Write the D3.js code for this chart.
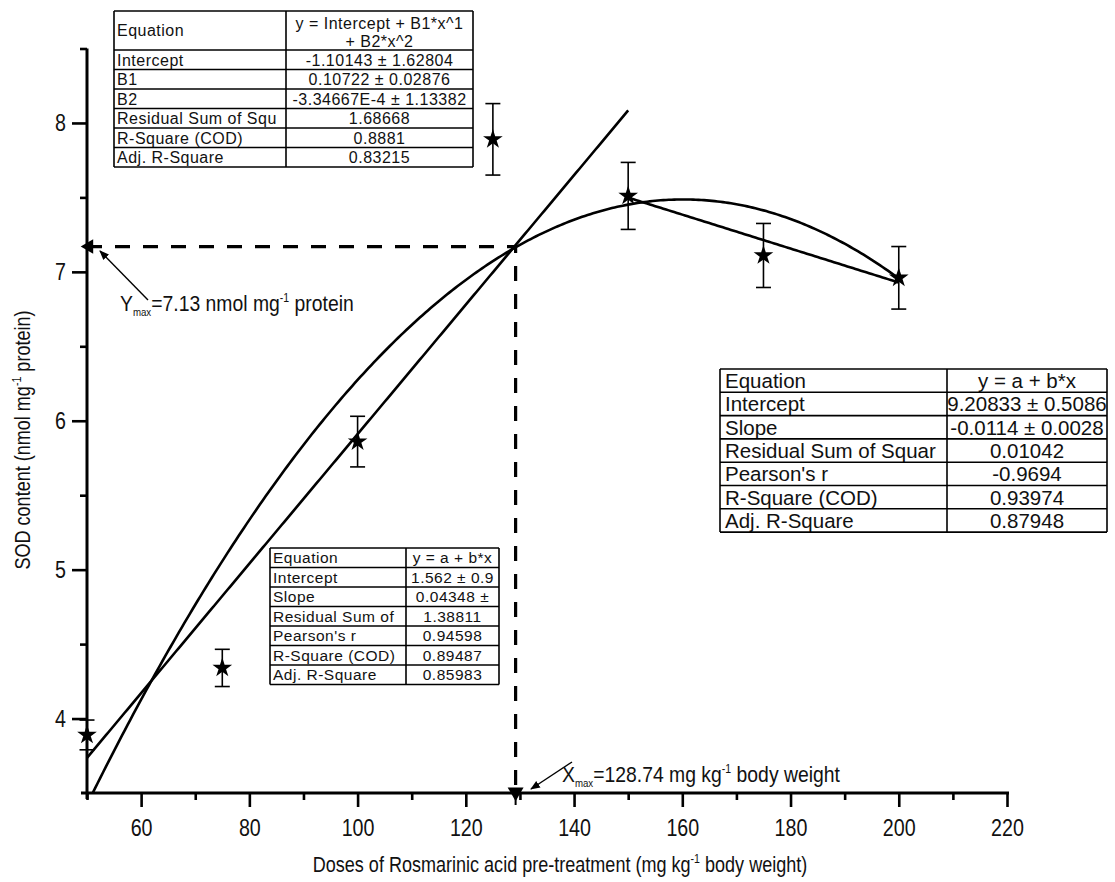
<!DOCTYPE html>
<html>
<head>
<meta charset="utf-8">
<script src="https://cdn.jsdelivr.net/npm/d3@7"></script>
<style>
  body { margin: 0; background: #fff; }
  text { font-family: "Liberation Sans", Arial, sans-serif; fill: #111; }
</style>
</head>
<body>
<svg id="chart" width="1115" height="882"></svg>
<script>
// measured points (dose, SOD content, error)
const doses = [50, 75, 100, 125, 150, 175, 200];
const sod = [3.89, 4.34, 5.86, 7.89, 7.51, 7.11, 6.96];
const sodErr = [0.10, 0.125, 0.17, 0.24, 0.225, 0.215, 0.21];

// fitted curves, coefficients as printed in the tables
const quadCoef = [-1.10143, 0.10722, -3.34667e-4];
const quadRange = [50, 200];
const riseCoef = [1.562, 0.04348];
const riseRange = [50, 150];
const fallCoef = [9.20833, -0.0114];
const fallRange = [150, 200];

// where the dashed guides meet
const xMax = 129.2;
const yMax = 7.17;

const xTicks = [60, 80, 100, 120, 140, 160, 180, 200, 220];
const xMinor = [50, 70, 90, 110, 130, 150, 170, 190, 210];
const yTicks = [4, 5, 6, 7, 8];
const yMinor = [4.5, 5.5, 6.5, 7.5, 8.5];

const quadTable = [
  ["Equation", "y = Intercept + B1*x^1|+ B2*x^2"],
  ["Intercept", "-1.10143 \u00b1 1.62804"],
  ["B1", "0.10722 \u00b1 0.02876"],
  ["B2", "-3.34667E-4 \u00b1 1.13382"],
  ["Residual Sum of Squ", "1.68668"],
  ["R-Square (COD)", "0.8881"],
  ["Adj. R-Square", "0.83215"]
];
const riseTable = [
  ["Equation", "y = a + b*x"],
  ["Intercept", "1.562 \u00b1 0.9"],
  ["Slope", "0.04348 \u00b1"],
  ["Residual Sum of", "1.38811"],
  ["Pearson's r", "0.94598"],
  ["R-Square (COD)", "0.89487"],
  ["Adj. R-Square", "0.85983"]
];
const fallTable = [
  ["Equation", "y = a + b*x"],
  ["Intercept", "9.20833 \u00b1 0.5086"],
  ["Slope", "-0.0114 \u00b1 0.0028"],
  ["Residual Sum of Squar", "0.01042"],
  ["Pearson's r", "-0.9694"],
  ["R-Square (COD)", "0.93974"],
  ["Adj. R-Square", "0.87948"]
];

const svg = d3.select("#chart");
const pLeft = 87, pRight = 1007, pTop = 48.5, pBottom = 793;
const narrow = 0.82; // squeeze for the condensed axis lettering

const x = d3.scaleLinear().domain([50, 220]).range([pLeft, pRight]);
const y = d3.scaleLinear().domain([3.5, 8.5]).range([pBottom, pTop]);

const defs = svg.append("defs");
defs.append("clipPath").attr("id", "plot")
  .append("rect").attr("x", pLeft).attr("y", pTop)
  .attr("width", pRight - pLeft).attr("height", pBottom - pTop);

function poly(c, v) {
  return c.reduce((s, k, i) => s + k * Math.pow(v, i), 0);
}
function curve(c, r) {
  return d3.range(r[0], r[1] + 0.001, 0.5).map(v => [v, poly(c, v)]);
}

const line = d3.line().x(d => x(d[0])).y(d => y(d[1]));
const fits = svg.append("g").attr("clip-path", "url(#plot)");
[[quadCoef, quadRange], [riseCoef, riseRange], [fallCoef, fallRange]].forEach(f => {
  fits.append("path")
    .attr("d", line(curve(f[0], f[1])))
    .attr("fill", "none")
    .attr("stroke", "#000")
    .attr("stroke-width", 2.6);
});

// dashed guides to the optimum
svg.append("path")
  .attr("d", line([[50, yMax], [xMax, yMax], [xMax, 3.5]]))
  .attr("fill", "none")
  .attr("stroke", "#000")
  .attr("stroke-width", 3.2)
  .attr("stroke-dasharray", "15,13");

// error bars
const pts = doses.map((d, i) => ({x: d, y: sod[i], e: sodErr[i]}));
const eb = svg.append("g").attr("stroke", "#000").attr("stroke-width", 1.6);
pts.forEach(p => {
  eb.append("line").attr("x1", x(p.x)).attr("x2", x(p.x))
    .attr("y1", y(p.y - p.e)).attr("y2", y(p.y + p.e));
  [p.y - p.e, p.y + p.e].forEach(v => {
    eb.append("line").attr("x1", x(p.x) - 7.5).attr("x2", x(p.x) + 7.5)
      .attr("y1", y(v)).attr("y2", y(v));
  });
});

// star markers
svg.append("g").selectAll("path").data(pts).join("path")
  .attr("transform", d => `translate(${x(d.x)},${y(d.y)})`)
  .attr("d", d3.symbol(d3.symbolStar, 120))
  .attr("fill", "#000");

// axes
function styleAxis(g) {
  g.selectAll(".domain").remove();
  g.selectAll(".tick line").attr("stroke", "#000").attr("stroke-width", 2.6);
  g.selectAll(".tick text").attr("font-size", 24).attr("fill", "#111")
    .attr("font-family", "\"Liberation Sans\", Arial, sans-serif")
    .attr("transform", `scale(${narrow},1)`)
    .attr("x", function () { return +d3.select(this).attr("x") / narrow; });
}
svg.append("g").attr("transform", `translate(0,${pBottom})`)
  .call(d3.axisBottom(x).tickValues(xTicks).tickSize(14).tickPadding(12).tickFormat(d3.format("d")))
  .call(styleAxis);
svg.append("g").attr("transform", `translate(0,${pBottom})`)
  .call(d3.axisBottom(x).tickValues(xMinor).tickSize(7).tickFormat(""))
  .call(styleAxis);
svg.append("g").attr("transform", `translate(${pLeft},0)`)
  .call(d3.axisLeft(y).tickValues(yTicks).tickSize(15).tickPadding(6).tickFormat(d3.format("d")))
  .call(styleAxis);
svg.append("g").attr("transform", `translate(${pLeft},0)`)
  .call(d3.axisLeft(y).tickValues(yMinor).tickSize(7).tickFormat(""))
  .call(styleAxis);

svg.append("line").attr("x1", pLeft - 6).attr("x2", pRight + 2)
  .attr("y1", pBottom).attr("y2", pBottom)
  .attr("stroke", "#000").attr("stroke-width", 3);
svg.append("line").attr("x1", pLeft).attr("x2", pLeft)
  .attr("y1", pTop).attr("y2", pBottom + 6)
  .attr("stroke", "#000").attr("stroke-width", 3);

// axis titles
const xt = svg.append("g").attr("transform", `translate(560,872) scale(${narrow},1)`)
  .append("text")
  .attr("text-anchor", "middle")
  .attr("font-size", 22);
xt.append("tspan").text("Doses of Rosmarinic acid pre-treatment (mg kg");
xt.append("tspan").attr("font-size", 13).attr("dy", -9).text("-1");
xt.append("tspan").attr("dy", 9).text(" body weight)");

const yt = svg.append("g").attr("transform", `translate(30,440) rotate(-90) scale(${narrow},1)`)
  .append("text")
  .attr("text-anchor", "middle")
  .attr("font-size", 22);
yt.append("tspan").text("SOD content (nmol mg");
yt.append("tspan").attr("font-size", 13).attr("dy", -9).text("-1");
yt.append("tspan").attr("dy", 9).text(" protein)");

// optimum markers on the axes
svg.append("path")
  .attr("transform", `translate(${pLeft + 2},${y(yMax)}) rotate(-90)`)
  .attr("d", d3.symbol(d3.symbolTriangle, 90))
  .attr("fill", "#000");
svg.append("path")
  .attr("transform", `translate(${x(xMax)},${pBottom - 1}) rotate(180)`)
  .attr("d", d3.symbol(d3.symbolTriangle, 110))
  .attr("fill", "#000");
svg.append("line")
  .attr("x1", x(xMax)).attr("x2", x(xMax))
  .attr("y1", pBottom).attr("y2", pBottom + 12)
  .attr("stroke", "#000").attr("stroke-width", 2);

// arrows + labels
defs.append("marker").attr("id", "head")
  .attr("viewBox", "0 0 10 10").attr("refX", 9).attr("refY", 5)
  .attr("markerWidth", 7).attr("markerHeight", 7).attr("orient", "auto")
  .append("path").attr("d", "M0,1 L10,5 L0,9 Z").attr("fill", "#000");

svg.append("line").attr("x1", 148).attr("y1", 300).attr("x2", 100).attr("y2", 251)
  .attr("stroke", "#000").attr("stroke-width", 1.4).attr("marker-end", "url(#head)");
svg.append("line").attr("x1", 572).attr("y1", 762).attr("x2", 531).attr("y2", 789)
  .attr("stroke", "#000").attr("stroke-width", 1.4).attr("marker-end", "url(#head)");

function optLabel(px, py, letter, rest, sup, tail) {
  const t = svg.append("g").attr("transform", `translate(${px},${py}) scale(0.88,1)`)
    .append("text").attr("font-size", 22);
  t.append("tspan").text(letter);
  t.append("tspan").attr("font-size", 11).attr("dy", 5).text("max");
  t.append("tspan").attr("dy", -5).text(rest);
  t.append("tspan").attr("font-size", 12).attr("dy", -9).text(sup);
  t.append("tspan").attr("dy", 9).text(tail);
}
optLabel(120, 311, "Y", "=7.13 nmol mg", "-1", " protein");
optLabel(562, 782, "X", "=128.74 mg kg", "-1", " body weight");

// parameter tables
function drawTable(x0, y0, cols, headH, rowH, rows, fs, ls, pad, lines) {
  const g = svg.append("g");
  const w = cols[0] + cols[1];
  let yy = y0;
  rows.forEach((r, i) => {
    const h = i === 0 ? headH : rowH;
    const id = "c" + Math.round(x0) + "_" + i;
    g.append("clipPath").attr("id", id).append("rect")
      .attr("x", x0).attr("y", yy).attr("width", w).attr("height", h);
    const cell = g.append("g").attr("clip-path", `url(#${id})`)
      .style("letter-spacing", ls + "px");
    cell.append("text").attr("x", x0 + pad).attr("y", yy + h / 2 + fs * 0.36)
      .attr("font-size", fs).text(r[0]);
    const parts = r[1].split("|");
    const cx = x0 + cols[0] + cols[1] / 2;
    if (parts.length === 1) {
      cell.append("text").attr("x", cx).attr("y", yy + h / 2 + fs * 0.36)
        .attr("text-anchor", "middle").attr("font-size", fs).text(parts[0]);
    } else {
      parts.forEach((p, k) => {
        cell.append("text").attr("x", cx).attr("y", yy + lines[k])
          .attr("text-anchor", "middle").attr("font-size", fs).text(p);
      });
    }
    g.append("line").attr("x1", x0).attr("x2", x0 + w).attr("y1", yy).attr("y2", yy)
      .attr("stroke", "#000").attr("stroke-width", 1.6);
    yy += h;
  });
  g.append("line").attr("x1", x0).attr("x2", x0 + w).attr("y1", yy).attr("y2", yy)
    .attr("stroke", "#000").attr("stroke-width", 1.6);
  [x0, x0 + cols[0], x0 + w].forEach(v => {
    g.append("line").attr("x1", v).attr("x2", v).attr("y1", y0).attr("y2", yy)
      .attr("stroke", "#000").attr("stroke-width", 1.6);
  });
}
drawTable(114, 11, [172, 187], 39, 19.5, quadTable, 16, 0.5, 3, [18, 36]);
drawTable(270, 548, [136, 93], 19.5, 19.5, riseTable, 15.5, 0.5, 3);
drawTable(720, 369, [227, 160], 23.3, 23.3, fallTable, 20.5, 0, 5);
</script>
</body>
</html>
